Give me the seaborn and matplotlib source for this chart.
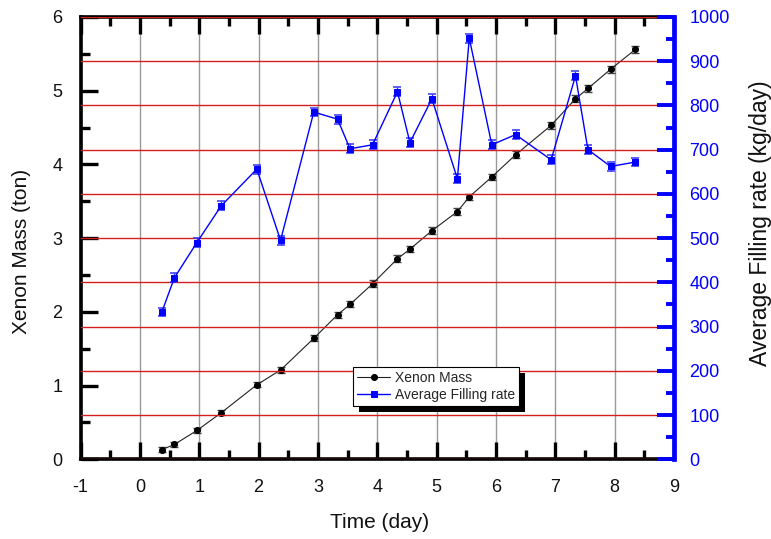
import matplotlib
matplotlib.use("Agg")
import numpy as np
import pandas as pd
import seaborn as sns
import matplotlib.pyplot as plt
from matplotlib.patches import Rectangle
from matplotlib.transforms import IdentityTransform
from matplotlib.ticker import MultipleLocator

# ---- data ----
time_day = [0.37, 0.58, 0.96, 1.37, 1.97, 2.37, 2.93, 3.33, 3.54, 3.92, 4.34,
            4.55, 4.92, 5.35, 5.55, 5.93, 6.33, 6.93, 7.34, 7.55, 7.93, 8.35]
xenon_mass_ton = [0.13, 0.20, 0.39, 0.63, 1.01, 1.21, 1.64, 1.96, 2.10, 2.38, 2.72,
                  2.85, 3.10, 3.36, 3.56, 3.83, 4.13, 4.53, 4.89, 5.03, 5.29, 5.56]
xenon_mass_err = [0.03, 0.03, 0.03, 0.035, 0.035, 0.04, 0.04, 0.04, 0.04, 0.045, 0.045,
                  0.045, 0.045, 0.045, 0.045, 0.045, 0.05, 0.05, 0.05, 0.05, 0.05, 0.05]
filling_rate = [333, 410, 490, 573, 656, 495, 785, 769, 702, 711, 831,
                716, 815, 634, 952, 711, 734, 677, 867, 700, 662, 672]
filling_rate_err = [10, 10, 10, 10, 10, 10, 10, 10, 10, 10, 10,
                    10, 10, 10, 10, 10, 10, 10, 10, 10, 10, 10]
x_ticks = list(range(-1, 10))
mass_ticks = list(range(0, 7))
rate_ticks = list(range(0, 1001, 100))

df = pd.DataFrame({"time": time_day, "mass": xenon_mass_ton,
                   "mass_err": xenon_mass_err, "rate": filling_rate,
                   "rate_err": filling_rate_err})

sns.set_theme(style="white")
plt.rcParams["font.family"] = ["Liberation Sans", "DejaVu Sans"]

fig = plt.figure(figsize=(7.71, 5.39), dpi=100)
ax1 = fig.add_axes([0.1045, 0.148, 0.7697, 0.8205])
ax2 = ax1.twinx()

# ---- Xenon mass (left axis) ----
ax1.errorbar(df["time"], df["mass"], yerr=df["mass_err"], fmt="none",
             ecolor="#444444", elinewidth=0.9, capsize=2.8, capthick=1.0, zorder=2)
sns.lineplot(data=df, x="time", y="mass", ax=ax1, sort=False, color="#222222",
             linewidth=0.8, marker="o", markersize=4.3, markerfacecolor="black",
             markeredgecolor="black", label="Xenon Mass", zorder=3)

# ---- Filling rate (right axis) ----
ax2.errorbar(df["time"], df["rate"], yerr=df["rate_err"], fmt="none",
             ecolor="#3333ff", elinewidth=0.9, capsize=2.8, capthick=1.1, zorder=2)
sns.lineplot(data=df, x="time", y="rate", ax=ax2, sort=False, color="#0000ff",
             linewidth=1.0, marker="s", markersize=4.3, markerfacecolor="#0000ff",
             markeredgecolor="#0000ff", label="Average Filling rate", zorder=3)

for a in (ax1, ax2):
    lg = a.get_legend()
    if lg is not None:
        lg.remove()

ax1.set_xlim(-1, 9)
ax1.set_ylim(0, 6)
ax2.set_ylim(0, 1000)

ax1.set_xticks(x_ticks)
ax1.set_xticklabels([str(v) for v in x_ticks])
ax1.xaxis.set_minor_locator(MultipleLocator(0.5))
ax1.set_yticks(mass_ticks)
ax1.set_yticklabels([str(v) for v in mass_ticks])
ax1.yaxis.set_minor_locator(MultipleLocator(0.5))
ax2.set_yticks(rate_ticks)
ax2.set_yticklabels([str(v) for v in rate_ticks])
ax2.yaxis.set_minor_locator(MultipleLocator(50))

ax1.tick_params(axis="x", which="both", direction="in", top=True, bottom=True,
                color="black", width=2.4, labelsize=13, pad=14, labelcolor="#111111")
ax1.tick_params(axis="x", which="major", length=12)
ax1.tick_params(axis="x", which="minor", length=6.5)
ax1.tick_params(axis="y", which="both", direction="in", left=True, right=False,
                color="black", width=2.4, labelsize=13, pad=13, labelcolor="#111111")
ax1.tick_params(axis="y", which="major", length=12)
ax1.tick_params(axis="y", which="minor", length=6.5)
ax2.tick_params(axis="y", which="both", direction="in", right=True, left=False,
                color="#0000ff", width=2.8, labelsize=13, pad=11, labelcolor="#0000ff")
ax2.tick_params(axis="y", which="major", length=12)
ax2.tick_params(axis="y", which="minor", length=6)

ax1.grid(False)
ax1.grid(axis="x", which="major", color="#999999", linewidth=1.0)
ax2.grid(False)
ax2.grid(axis="y", which="major", color="#d42020", linewidth=1.0)
ax2.set_axisbelow(True)

for s in ("left", "bottom", "top"):
    ax1.spines[s].set_color("black")
    ax1.spines[s].set_linewidth(2.6)
    ax2.spines[s].set_visible(False)
ax1.spines["right"].set_visible(False)
ax2.spines["right"].set_color("#0000ff")
ax2.spines["right"].set_linewidth(3.4)

ax1.set_xlabel("")
ax1.set_ylabel("")
ax2.set_ylabel("")

fig.text(0.0285, 0.5334, "Xenon Mass (ton)", rotation=90, ha="center",
         va="center", fontsize=15, color="#111111")
fig.text(0.986, 0.586, "Average Filling rate (kg/day)", rotation=90, ha="center",
         va="center", fontsize=16.5, color="#111111")
fig.text(0.4929, 0.0297, "Time (day)", ha="center", va="center",
         fontsize=15, color="#111111")

# ---- legend with solid black drop shadow ----
h1, l1 = ax1.get_legend_handles_labels()
h2, l2 = ax2.get_legend_handles_labels()
leg = ax2.legend(h1 + h2, l1 + l2, loc="upper left",
                 bbox_to_anchor=(0.4586, 0.2095), borderaxespad=0,
                 fontsize=10, frameon=True, fancybox=False, shadow=False,
                 handlelength=2.4, handletextpad=0.35, labelspacing=0.25,
                 borderpad=0.3, framealpha=1.0)
leg.get_frame().set_edgecolor("black")
leg.get_frame().set_linewidth(0.8)
leg.set_zorder(10)

fig.canvas.draw()
bb = leg.get_window_extent()
shadow = Rectangle((bb.x0 + 6, bb.y0 - 6), bb.width, bb.height,
                   transform=IdentityTransform(), facecolor="black",
                   edgecolor="none", zorder=9, clip_on=False)
ax2.add_artist(shadow)

fig.savefig("out.png", dpi=100)
